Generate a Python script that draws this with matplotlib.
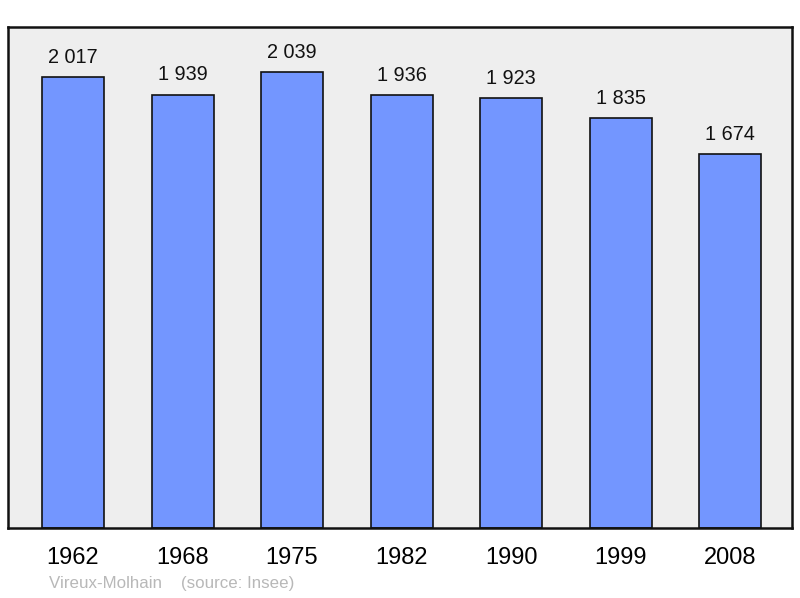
import matplotlib.pyplot as plt

plt.rcParams['font.family'] = ['Liberation Sans', 'DejaVu Sans']

years = ["1962", "1968", "1975", "1982", "1990", "1999", "2008"]
population = [2017, 1939, 2039, 1936, 1923, 1835, 1674]
value_labels = ["2 017", "1 939", "2 039", "1 936", "1 923", "1 835", "1 674"]

fig = plt.figure(figsize=(8, 5.98), dpi=100)
ax = fig.add_axes([0.01, 0.117, 0.98, 0.838])
ax.set_facecolor("#eeeeee")

x = list(range(len(years)))
ax.bar(x, population, width=0.566, color="#7396ff", edgecolor="#111111", linewidth=1.2, zorder=2)

for xi, v, lab in zip(x, population, value_labels):
    ax.annotate(lab, (xi, v), xytext=(0, 7.5), textcoords="offset points",
                ha="center", va="bottom", fontsize=14.3, color="#111111")

ax.set_xlim(-0.594, 6.566)
ax.set_ylim(0, max(population) * 1.1)
ax.set_xticks(x)
ax.set_xticklabels(years, fontsize=17)
ax.tick_params(axis="x", length=0, pad=14)
ax.set_yticks([])
for s in ax.spines.values():
    s.set_linewidth(1.8)
    s.set_color("#111111")

fig.text(0.061, 0.012, "Vireux-Molhain    (source: Insee)", fontsize=12.2, color="#b8b8b8", ha="left", va="bottom")

fig.savefig("out.png", dpi=100)
